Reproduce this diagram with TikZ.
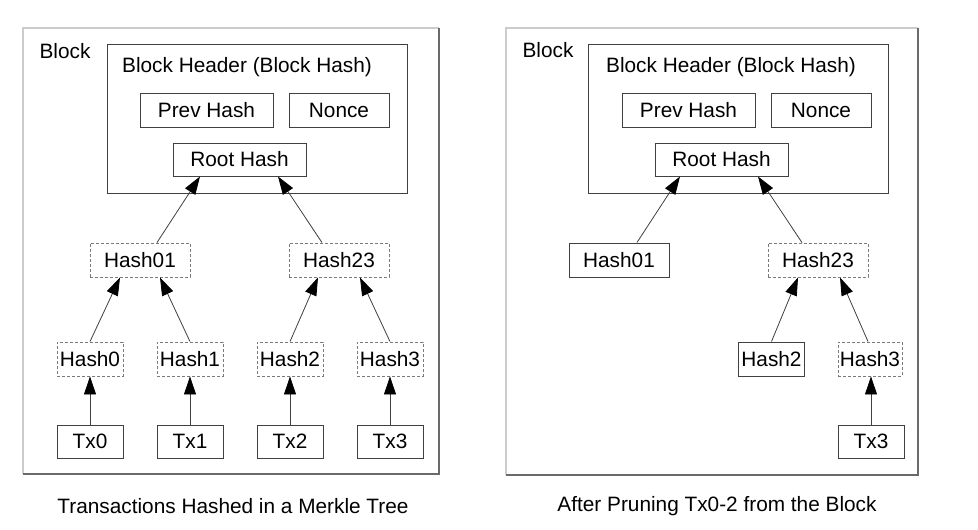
\documentclass[tikz,border=0pt]{standalone}
\usepackage{fontspec}
\setmainfont{Liberation Sans}
\usetikzlibrary{arrows.meta,calc}
\definecolor{boxline}{HTML}{404040}
\definecolor{dashline}{HTML}{7A7A7A}
\definecolor{outerlight}{HTML}{CCCCCC}
\definecolor{outerdark}{HTML}{6A6A6A}
\begin{document}
\begin{tikzpicture}[x=1pt,y=-1pt,
  every node/.style={font=\fontsize{20.8}{24}\selectfont, inner sep=0pt, text=black},
  solidbox/.style={draw=boxline, line width=1pt, rectangle, minimum height=34pt},
  dashbox/.style={draw=dashline, line width=0.9pt, dash pattern=on 3pt off 2pt, rectangle, minimum height=34pt},
  link/.style={draw=boxline, line width=0.8pt, -{Triangle[length=18pt,width=12pt,color=black]}},
  outerL/.style={draw=outerlight, line width=1.2pt},
  outerD/.style={draw=outerdark, line width=1.4pt}
]
\useasboundingbox (0,0) rectangle (978,530);
\fill[white] (0,0) rectangle (978,530);

% ===== Left block =====
\coordinate (L1) at (23,28);
\coordinate (L2) at (439,28);
\coordinate (L3) at (439,474);
\coordinate (L4) at (23,474);
\draw[outerL] (L4) -- (L1) -- (L2);
\draw[outerD] (L2) -- (L3) -- (L4);
\node (lblock) at (65,51) {Block};
\node[solidbox, minimum width=300pt, minimum height=149pt] (lhead) at (257,118.5) {};
\node (lheadt) at (247,67) {Block Header (Block Hash)};
\node[solidbox, minimum width=133pt] (lprev) at (206.5,110) {Prev Hash};
\node[solidbox, minimum width=100pt] (lnonce) at (339,110) {Nonce};
\node[solidbox, minimum width=133pt, minimum height=33pt] (lroot) at (239.5,159.5) {Root Hash};
\node[dashbox, minimum width=100pt] (lh01) at (140,260) {Hash01};
\node[dashbox, minimum width=100pt] (lh23) at (339,260) {Hash23};
\node[dashbox, minimum width=66pt] (lh0) at (90,359) {Hash0};
\node[dashbox, minimum width=66pt] (lh1) at (190,359) {Hash1};
\node[dashbox, minimum width=66pt] (lh2) at (290,359) {Hash2};
\node[dashbox, minimum width=66pt] (lh3) at (390,359) {Hash3};
\node[solidbox, minimum width=66pt, minimum height=33pt] (ltx0) at (90,441.5) {Tx0};
\node[solidbox, minimum width=66pt, minimum height=33pt] (ltx1) at (190,441.5) {Tx1};
\node[solidbox, minimum width=66pt, minimum height=33pt] (ltx2) at (290,441.5) {Tx2};
\node[solidbox, minimum width=66pt, minimum height=33pt] (ltx3) at (390,441.5) {Tx3};
\draw[link] ($(lh01.north)+(17,0)$) -- ($(lroot.south)+(-39.5,0)$);
\draw[link] ($(lh23.north)+(-17,0)$) -- ($(lroot.south)+(38.5,0)$);
\draw[link] (lh0.north) -- ($(lh01.south)+(-20,0)$);
\draw[link] (lh1.north) -- ($(lh01.south)+(20,0)$);
\draw[link] (lh2.north) -- ($(lh23.south)+(-21,0)$);
\draw[link] (lh3.north) -- ($(lh23.south)+(21,0)$);
\draw[link] (ltx0) -- (lh0);
\draw[link] (ltx1) -- (lh1);
\draw[link] (ltx2) -- (lh2);
\draw[link] (ltx3) -- (lh3);
\node (lcap) at (233,506) {Transactions Hashed in a Merkle Tree};

% ===== Right block =====
\coordinate (R1) at (506,28);
\coordinate (R2) at (918,28);
\coordinate (R3) at (918,475);
\coordinate (R4) at (506,475);
\draw[outerL] (R4) -- (R1) -- (R2);
\draw[outerD] (R2) -- (R3) -- (R4);
\node (rblock) at (548,50) {Block};
\node[solidbox, minimum width=300pt, minimum height=149pt] (rhead) at (738,118.5) {};
\node (rheadt) at (731,67) {Block Header (Block Hash)};
\node[solidbox, minimum width=133pt] (rprev) at (688.5,110) {Prev Hash};
\node[solidbox, minimum width=100pt] (rnonce) at (821,110) {Nonce};
\node[solidbox, minimum width=133pt, minimum height=33pt] (rroot) at (721.5,159.5) {Root Hash};
\node[solidbox, minimum width=100pt] (rh01) at (619,260) {Hash01};
\node[dashbox, minimum width=100pt] (rh23) at (818,260) {Hash23};
\node[solidbox, minimum width=66pt] (rh2) at (771.5,359) {Hash2};
\node[dashbox, minimum width=64pt] (rh3) at (870,359) {Hash3};
\node[solidbox, minimum width=66pt, minimum height=33pt] (rtx3) at (871,441.5) {Tx3};
\draw[link] ($(rh01.north)+(18,0)$) -- ($(rroot.south)+(-41.5,0)$);
\draw[link] ($(rh23.north)+(-16,0)$) -- ($(rroot.south)+(36.5,0)$);
\draw[link] (rh2.north) -- ($(rh23.south)+(-20,0)$);
\draw[link] ($(rh3.north)+(-2,0)$) -- ($(rh23.south)+(22,0)$);
\draw[link] (rtx3.north) -- (rtx3.north |- rh3.south);
\node (rcap) at (717,506) {After Pruning Tx0-2 from the Block};
\end{tikzpicture}
\end{document}
